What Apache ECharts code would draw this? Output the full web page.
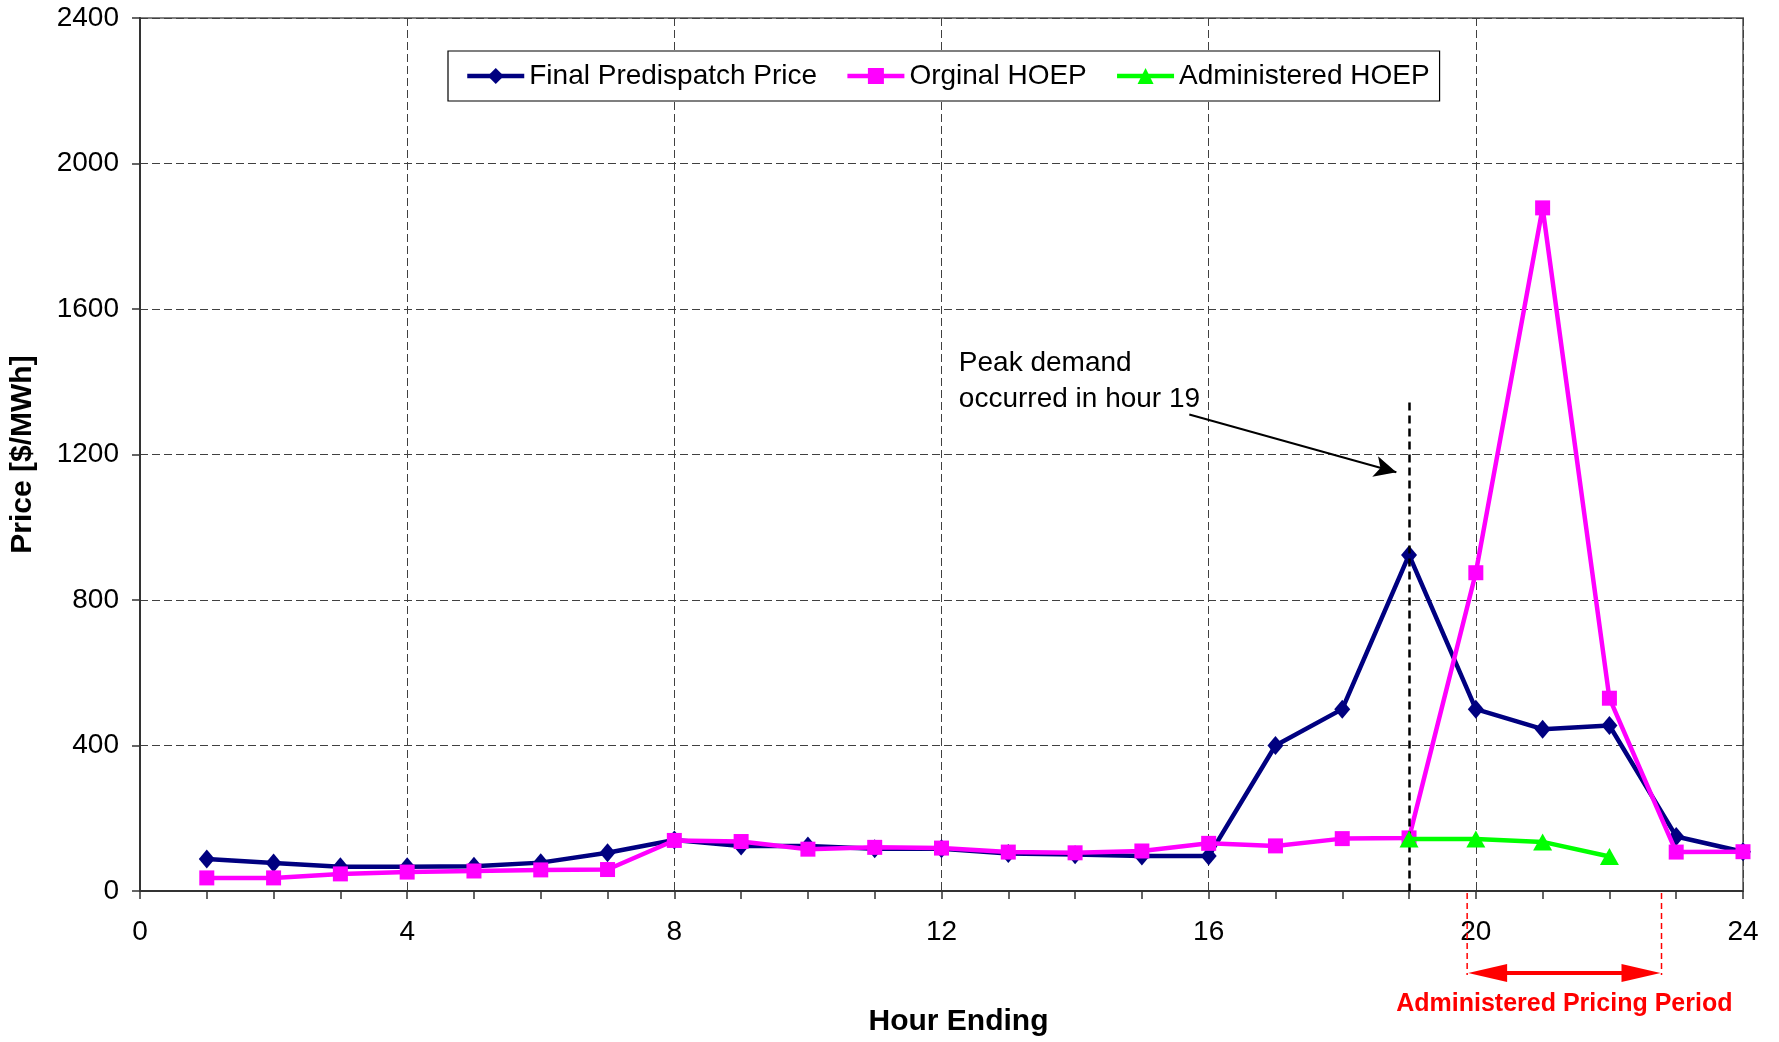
<!DOCTYPE html>
<html>
<head>
<meta charset="utf-8">
<script src="https://cdn.jsdelivr.net/npm/echarts@6/dist/echarts.min.js"></script>
<style>
  html, body { margin: 0; padding: 0; background: #fff; }
  #chart { width: 1779px; height: 1042px; }
</style>
</head>
<body>
<div id="chart"></div>
<script>
// hours 1..24
var hours = [1, 2, 3, 4, 5, 6, 7, 8, 9, 10, 11, 12, 13, 14, 15, 16, 17, 18, 19, 20, 21, 22, 23, 24]
var finalPredispatch = [88, 77, 67, 67, 68, 78, 105, 140, 124, 124, 116, 116, 103, 100, 96, 96, 400, 500, 924, 500, 445, 455, 150, 108]
var orginalHoep = [36, 36, 47, 52, 55, 58, 59, 139, 136, 115, 120, 118, 107, 105, 110, 131, 124, 144, 146, 875, 1878, 530, 107, 108]
var adminHours = [19, 20, 21, 22]
var administeredHoep = [143, 143, 135, 95]

// annotation anchors (data units)
var peakHour = 19
var peakLineTop = 1343
var arrowFrom = [15.71, 1310]
var arrowTo = [18.81, 1151]
var periodStart = 19.87
var periodEnd = 22.78

var arial = "'Liberation Sans', Arial, sans-serif"

function pairs (xs, ys) {
  return xs.map(function (x, i) { return [x, ys[i]] })
}

var chart = echarts.init(document.getElementById('chart'))

var option = {
  animation: false,
  backgroundColor: '#fff',
  grid: {
    left: 138,
    right: 36,
    top: 18,
    bottom: 148,
    show: true,
    borderColor: '#808080',
    borderWidth: 2,
    backgroundColor: 'transparent'
  },
  legend: {
    left: 448,
    top: 51,
    orient: 'horizontal',
    backgroundColor: '#fff',
    borderColor: '#000',
    borderWidth: 1.2,
    padding: [11, 10, 11, 17],
    itemWidth: 57,
    itemHeight: 20,
    itemGap: 28,
    lineStyle: { width: 4.5 },
    textStyle: { fontFamily: arial, fontSize: 28, color: '#000' },
    data: ['Final Predispatch Price', 'Orginal HOEP', 'Administered HOEP']
  },
  xAxis: {
    type: 'value',
    min: 0,
    max: 24,
    interval: 4,
    name: 'Hour Ending',
    nameLocation: 'middle',
    nameGap: 116,
    nameTextStyle: { fontFamily: arial, fontSize: 30, fontWeight: 'bold', color: '#000', verticalAlign: 'top', padding: [0, 0, 0, 34] },
    axisLine: { lineStyle: { color: '#333', width: 2 } },
    axisTick: { length: 8, lineStyle: { color: '#333', width: 1.5 } },
    minorTick: { show: true, splitNumber: 4, length: 8, lineStyle: { color: '#333', width: 1.5 } },
    axisLabel: { margin: 27, fontFamily: arial, fontSize: 28, color: '#000' },
    splitLine: { show: true, lineStyle: { color: '#404040', width: 1, type: [8, 4] } }
  },
  yAxis: {
    type: 'value',
    min: 0,
    max: 2400,
    interval: 400,
    name: 'Price [$/MWh]',
    nameLocation: 'middle',
    nameGap: 102,
    nameTextStyle: { fontFamily: arial, fontSize: 30, fontWeight: 'bold', color: '#000' },
    axisLine: { show: true, lineStyle: { color: '#333', width: 2 } },
    axisTick: { show: true, length: 8, lineStyle: { color: '#333', width: 1.5 } },
    axisLabel: { margin: 21, fontFamily: arial, fontSize: 28, color: '#000', formatter: function (v) { return String(v) } },
    splitLine: { show: true, lineStyle: { color: '#404040', width: 1, type: [8, 4] } }
  },
  series: [
    {
      name: 'Final Predispatch Price',
      type: 'line',
      data: pairs(hours, finalPredispatch),
      symbol: 'diamond',
      symbolSize: [16, 19],
      lineStyle: { color: '#000080', width: 4.5 },
      itemStyle: { color: '#000080' },
      z: 3,
      markLine: {
        silent: true,
        symbol: ['none', 'arrow'],
        symbolSize: [16, 22],
        label: { show: false },
        lineStyle: { color: '#000', width: 2, type: 'solid' },
        data: [
          [{ coord: arrowFrom }, { coord: arrowTo }]
        ]
      }
    },
    {
      name: 'Orginal HOEP',
      type: 'line',
      data: pairs(hours, orginalHoep),
      symbol: 'rect',
      symbolSize: 15,
      lineStyle: { color: '#ff00ff', width: 4.5 },
      itemStyle: { color: '#ff00ff' },
      z: 4,
      markLine: {
        silent: true,
        symbol: ['none', 'none'],
        label: { show: false },
        lineStyle: { color: '#000', width: 2.5, type: [8, 5] },
        data: [
          [{ coord: [peakHour, peakLineTop] }, { coord: [peakHour, 0] }]
        ]
      }
    },
    {
      name: 'Administered HOEP',
      type: 'line',
      data: pairs(adminHours, administeredHoep),
      symbol: 'triangle',
      symbolSize: [19, 17],
      lineStyle: { color: '#00ff00', width: 4.5 },
      itemStyle: { color: '#00ff00' },
      z: 5
    }
  ]
}

chart.setOption(option)

// annotations placed from data coordinates
var p0 = chart.convertToPixel({ gridIndex: 0 }, [periodStart, 0])
var p1 = chart.convertToPixel({ gridIndex: 0 }, [periodEnd, 0])
var txt = chart.convertToPixel({ gridIndex: 0 }, [12.26, 1500])
var x1 = p0[0], x2 = p1[0], y0 = p0[1]
var ay = y0 + 82
var red = '#ff0000'

chart.setOption({
  graphic: [
    {
      type: 'text',
      left: txt[0],
      top: txt[1],
      style: {
        text: 'Peak demand\noccurred in hour 19',
        font: '28px ' + arial,
        lineHeight: 36,
        fill: '#000'
      },
      z: 10
    },
    {
      type: 'line',
      shape: { x1: x1, y1: y0 + 2, x2: x1, y2: ay + 2 },
      style: { stroke: red, lineWidth: 1.5, lineDash: [6, 4] },
      z: 10
    },
    {
      type: 'line',
      shape: { x1: x2, y1: y0 + 2, x2: x2, y2: ay + 2 },
      style: { stroke: red, lineWidth: 1.5, lineDash: [6, 4] },
      z: 10
    },
    {
      type: 'line',
      shape: { x1: x1 + 30, y1: ay, x2: x2 - 30, y2: ay },
      style: { stroke: red, lineWidth: 4 },
      z: 10
    },
    {
      type: 'polygon',
      shape: { points: [[x1 + 1, ay], [x1 + 40, ay - 9], [x1 + 40, ay + 9]] },
      style: { fill: red },
      z: 10
    },
    {
      type: 'polygon',
      shape: { points: [[x2 - 1, ay], [x2 - 40, ay - 9], [x2 - 40, ay + 9]] },
      style: { fill: red },
      z: 10
    },
    {
      type: 'text',
      x: (x1 + x2) / 2,
      y: y0 + 113,
      style: {
        text: 'Administered Pricing Period',
        font: 'bold 25px ' + arial,
        fill: red,
        align: 'center',
        verticalAlign: 'middle'
      },
      z: 10
    }
  ]
})
</script>
</body>
</html>
